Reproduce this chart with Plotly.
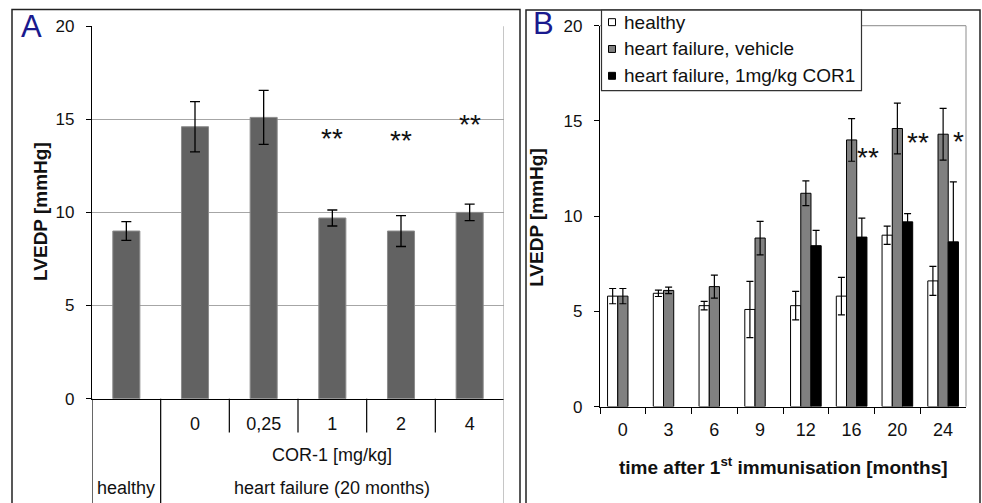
import plotly.graph_objects as go

W = 982
H_FIG = 511          # figure height
PAGE_SCALE = 519 / 503   # photographed page rows per picture row
Y_OFF = 8            # page offset of the figure

# ---------------- data: panel A ----------------
a_keys = ["healthy", "hf 0", "hf 0,25", "hf 1", "hf 2", "hf 4"]
a_ticktext = ["", "0", "0,25", "1", "2", "4"]
a_mean = [9.0, 14.6, 15.1, 9.7, 9.0, 10.0]
a_err = [0.5, 1.35, 1.45, 0.43, 0.83, 0.44]
a_sig = ["", "", "", "**", "**", "**"]
a_sig_y = [None, None, None, 13.95, 13.85, 14.7]

# ---------------- data: panel B ----------------
b_months = ["0", "3", "6", "9", "12", "16", "20", "24"]
b_healthy = [5.8, 5.95, 5.3, 5.1, 5.3, 5.8, 9.0, 6.6]
b_healthy_err = [0.4, 0.17, 0.22, 1.48, 0.75, 0.98, 0.48, 0.76]
b_vehicle = [5.8, 6.1, 6.3, 8.85, 11.2, 14.0, 14.6, 14.3]
b_vehicle_err = [0.4, 0.17, 0.6, 0.88, 0.65, 1.12, 1.33, 1.36]
b_cor1 = [None, None, None, None, 8.45, 8.9, 9.7, 8.65]
b_cor1_err = [None, None, None, None, 0.8, 1.0, 0.43, 3.15]
b_sig = ["", "", "", "", "", "**", "**", "*"]
b_sig_y = [None, None, None, None, None, 13.1, 13.85, 13.9]
b_sig_dx = [0, 0, 0, 0, 0, 16, 21, 15]

series_names = ["healthy", "heart failure, vehicle", "heart failure, 1mg/kg COR1"]
series_fill = ["#ffffff", "#808080", "#000000"]

FONT = "Liberation Sans, Arial, sans-serif"


def px(x):
    return x / W


def py(y):
    return 1 - (y * PAGE_SCALE - Y_OFF) / H_FIG


fig = go.Figure()

# Panel A bars
fig.add_trace(go.Bar(
    x=a_keys, y=a_mean, width=0.394,
    marker=dict(color="#626262", line=dict(color="#8c8c8c", width=1)),
    error_y=dict(type="data", array=a_err, color="#000000", thickness=1.3, width=5),
    xaxis="x", yaxis="y", showlegend=False,
))

# Panel B bars
for name, vals, errs, fill in zip(series_names, [b_healthy, b_vehicle, b_cor1],
                                  [b_healthy_err, b_vehicle_err, b_cor1_err], series_fill):
    fig.add_trace(go.Bar(
        x=b_months, y=vals, name=name,
        marker=dict(color=fill, line=dict(color="#000000", width=1)),
        error_y=dict(type="data", array=errs, color="#000000", thickness=1.2, width=3.5),
        xaxis="x2", yaxis="y2", showlegend=False,
    ))

A_left, A_right, A_bottom, A_top = 92, 504, 400, 25
B_left, B_right, B_bottom, B_top = 600, 966, 408, 24.5

tick_keys = [k for k, t in zip(a_keys, a_ticktext) if t]
tick_text = [t for t in a_ticktext if t]

fig.update_layout(
    width=W, height=H_FIG,
    margin=dict(l=0, r=0, t=0, b=0),
    paper_bgcolor="white", plot_bgcolor="white",
    barmode="group", bargap=0.33, bargroupgap=0,
    font=dict(family=FONT, color="#111111", size=18),
    xaxis=dict(
        domain=[px(A_left), px(A_right)], anchor="y", type="category",
        categoryorder="array", categoryarray=a_keys, range=[-0.5, len(a_keys) - 0.5],
        tickmode="array", tickvals=tick_keys, ticktext=tick_text,
        ticks="", showline=True, linecolor="#000000", linewidth=1.2,
        tickfont=dict(size=18), ticklabelstandoff=9, showgrid=False,
    ),
    yaxis=dict(
        domain=[py(A_bottom), py(A_top)], anchor="x", range=[0, 20],
        tick0=0, dtick=5, showgrid=True, gridcolor="#a6a6a6", gridwidth=1,
        zeroline=False, showline=True, linecolor="#000000", linewidth=1.2,
        ticks="outside", ticklen=5, tickcolor="#000000",
        tickfont=dict(size=17), ticklabelstandoff=8,
    ),
    xaxis2=dict(
        domain=[px(B_left), px(B_right)], anchor="y2", type="category",
        categoryorder="array", categoryarray=b_months, range=[-0.5, len(b_months) - 0.5],
        ticks="outside", tickson="boundaries", ticklen=6, tickcolor="#000000",
        showline=True, linecolor="#000000", linewidth=1.2, tickangle=0,
        tickfont=dict(size=18), ticklabelstandoff=7, showgrid=False,
    ),
    yaxis2=dict(
        domain=[py(B_bottom), py(B_top)], anchor="x2", range=[0, 20],
        tick0=0, dtick=5, showgrid=False, zeroline=False,
        showline=True, linecolor="#000000", linewidth=1.2,
        ticks="outside", ticklen=5, tickcolor="#000000",
        tickfont=dict(size=17), ticklabelstandoff=8,
    ),
)

shapes = []
# panel frames
shapes.append(dict(type="rect", xref="paper", yref="paper",
                   x0=px(12), x1=px(520), y0=-0.05, y1=py(8.3),
                   line=dict(color="#222222", width=1.5)))
shapes.append(dict(type="rect", xref="paper", yref="paper",
                   x0=px(526), x1=px(980), y0=-0.05, y1=py(8.8),
                   line=dict(color="#222222", width=1.5)))

# panel A: category separators below axis
n_a = len(a_keys)
for i in range(n_a + 1):
    xb = i - 0.5
    if i == n_a:
        shapes.append(dict(type="line", xref="x", yref="paper", x0=xb, x1=xb,
                           y0=py(A_top), y1=-0.01, line=dict(color="#a0a0a0", width=1.2)))
    elif i <= 1:
        shapes.append(dict(type="line", xref="x", yref="paper", x0=xb, x1=xb,
                           y0=py(A_bottom), y1=-0.01, line=dict(color="#000000", width=1.2)))
    else:
        shapes.append(dict(type="line", xref="x", yref="paper", x0=xb, x1=xb,
                           y0=py(A_bottom), y1=py(434), line=dict(color="#000000", width=1.2)))

# panel B: top and right plot-area border
shapes.append(dict(type="line", xref="x2 domain", yref="y2 domain", x0=0, x1=1, y0=1, y1=1,
                   line=dict(color="#a0a0a0", width=1.2)))
shapes.append(dict(type="line", xref="x2 domain", yref="y2 domain", x0=1, x1=1, y0=0, y1=1,
                   line=dict(color="#a0a0a0", width=1.2)))

# panel B: custom legend
leg_l, leg_r, leg_t, leg_b = 601.5, 861.5, 8.8, 90
shapes.append(dict(type="rect", xref="paper", yref="paper",
                   x0=px(leg_l), x1=px(leg_r), y0=py(leg_b), y1=py(leg_t),
                   fillcolor="white", line=dict(color="#333333", width=1.2), layer="above"))
row_y = [21, 48, 75]
annotations = []
for name, fill, ry in zip(series_names, series_fill, row_y):
    shapes.append(dict(type="rect", xref="paper", yref="paper",
                       x0=px(608.5), x1=px(615.5), y0=py(ry + 3.5), y1=py(ry - 3.5),
                       fillcolor=fill, line=dict(color="#000000", width=1), layer="above"))
    annotations.append(dict(text=name, xref="paper", yref="paper", x=px(622), y=py(ry),
                            xanchor="left", yanchor="middle", showarrow=False,
                            font=dict(size=19, family=FONT, color="#111111")))

# panel A annotations
mid_hf = (1 + n_a - 1) / 2
annotations += [
    dict(text="A", xref="paper", yref="paper", x=px(32), y=py(25), showarrow=False,
         xanchor="center", yanchor="middle", font=dict(size=31, color="#1a1a8e", family=FONT)),
    dict(text="B", xref="paper", yref="paper", x=px(543), y=py(22), showarrow=False,
         xanchor="center", yanchor="middle", font=dict(size=31, color="#1a1a8e", family=FONT)),
    dict(text="COR-1 [mg/kg]", xref="x", yref="paper", x=mid_hf, y=py(457), showarrow=False,
         xanchor="center", yanchor="middle", font=dict(size=18)),
    dict(text="heart failure (20 months)", xref="x", yref="paper", x=mid_hf, y=py(490),
         showarrow=False, xanchor="center", yanchor="middle", font=dict(size=18)),
    dict(text="healthy", xref="x", yref="paper", x=0, y=py(490), showarrow=False,
         xanchor="center", yanchor="middle", font=dict(size=18)),
    dict(text="<b>LVEDP [mmHg]</b>", xref="paper", yref="paper", x=px(41), y=py(212),
         textangle=-90, showarrow=False, xanchor="center", yanchor="middle",
         font=dict(size=19)),
    dict(text="<b>LVEDP [mmHg]</b>", xref="paper", yref="paper", x=px(537), y=py(218),
         textangle=-90, showarrow=False, xanchor="center", yanchor="middle",
         font=dict(size=19)),
    dict(text="<b>time after 1<sup>st</sup> immunisation [months]</b>", xref="x2 domain",
         yref="paper", x=0.5, y=py(468), showarrow=False, xanchor="center", yanchor="middle",
         font=dict(size=19)),
]
for i, (s, sy) in enumerate(zip(a_sig, a_sig_y)):
    if s:
        annotations.append(dict(text=s, xref="x", yref="y", x=i, y=sy, showarrow=False,
                                xanchor="center", yanchor="middle",
                                font=dict(size=28, family=FONT, color="#111111")))
for i, (s, sy, dx) in enumerate(zip(b_sig, b_sig_y, b_sig_dx)):
    if s:
        annotations.append(dict(text=s, xref="x2", yref="y2", x=i, y=sy, xshift=dx,
                                showarrow=False, xanchor="center", yanchor="middle",
                                font=dict(size=28, family=FONT, color="#111111")))

fig.update_layout(shapes=shapes, annotations=annotations)
fig.write_html("out.html")
